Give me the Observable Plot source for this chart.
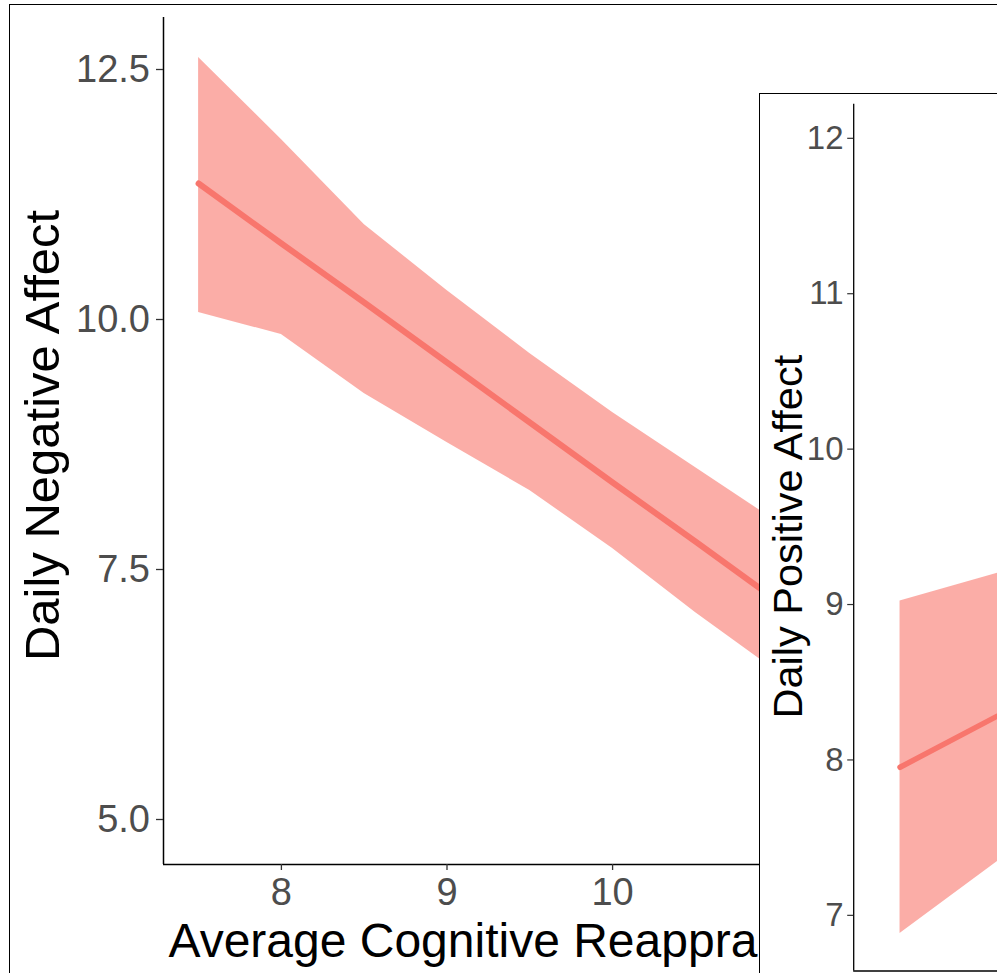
<!DOCTYPE html>
<html>
<head>
<meta charset="utf-8">
<script src="https://cdn.jsdelivr.net/npm/d3@7"></script>
<script src="https://cdn.jsdelivr.net/npm/@observablehq/plot@0.6"></script>
<style>
  html, body { margin: 0; padding: 0; background: #fff; }
  #wrap { position: relative; width: 997px; height: 973px; overflow: hidden; background: #fff; }
  #left { position: absolute; left: 0; top: 0; }
  #frame { position: absolute; left: 9px; top: 4px; width: 1200px; height: 1200px; border: 1.5px solid #000; pointer-events: none; }
  #inset { position: absolute; left: 759px; top: 93px; width: 400px; height: 1000px; border: 1.5px solid #000; background: #fff; overflow: hidden; }
  #right { position: absolute; left: 0; top: 0; }
  svg { display: block; }
</style>
</head>
<body>
<div id="wrap">
  <div id="left"></div>
  <div id="frame"></div>
  <div id="inset"><div id="right"></div></div>
</div>
<script>
// ---- Left panel: Daily Negative Affect ----
const leftX     = [7.5, 8.0, 8.5, 9.0, 9.5, 10.0, 10.5, 11.0];
const leftUpper = [12.60, 11.78, 10.93, 10.27, 9.64, 9.05, 8.50, 7.95];
const leftFit   = [11.34, 10.74, 10.15, 9.55, 8.95, 8.35, 7.76, 7.16];
const leftLower = [10.05, 9.83, 9.24, 8.75, 8.27, 7.69, 7.05, 6.45];
const leftYTicks = [5.0, 7.5, 10.0, 12.5];
const leftXTicks = [8, 9, 10];
const leftYTitle = "Daily Negative Affect";
const xTitle = "Average Cognitive Reappraisal";

// ---- Right panel (inset): Daily Positive Affect ----
const rightX     = [7.5, 8.0, 8.5];
const rightUpper = [9.01, 9.21, 9.40];
const rightFit   = [7.94, 8.31, 8.68];
const rightLower = [6.87, 7.39, 7.88];
const rightYTicks = [7, 8, 9, 10, 11, 12];
const rightYTitle = "Daily Positive Affect";

const FONT = '"Liberation Sans", Arial, Helvetica, sans-serif';
const RED = "#F8766D";

const leftRows = leftX.map((x, i) => ({x, upper: leftUpper[i], fit: leftFit[i], lower: leftLower[i]}));
const rightRows = rightX.map((x, i) => ({x, upper: rightUpper[i], fit: rightFit[i], lower: rightLower[i]}));

const leftXDomain = [7.288, 11.95];
const leftYDomain = [4.53, 13.0];

const leftPlot = Plot.plot({
  width: 997, height: 973,
  marginLeft: 163, marginTop: 17, marginBottom: 109, marginRight: 62,
  style: {fontFamily: FONT, background: "transparent", overflow: "visible"},
  x: {domain: leftXDomain},
  y: {domain: leftYDomain},
  marks: [
    Plot.areaY(leftRows, {x: "x", y1: "lower", y2: "upper", fill: RED, fillOpacity: 0.6}),
    Plot.lineY(leftRows, {x: "x", y: "fit", stroke: RED, strokeWidth: 6}),
    Plot.ruleX([leftXDomain[0]], {stroke: "#000", strokeWidth: 1.5}),
    Plot.ruleY([leftYDomain[0]], {stroke: "#000", strokeWidth: 1.5}),
    Plot.axisY({ticks: leftYTicks, tickFormat: d => d.toFixed(1), tickSize: 7, tickPadding: 6.5,
      fontSize: 38, fill: "#4d4d4d", stroke: "#333333", strokeWidth: 1.3, label: null, dy: 2}),
    Plot.axisX({ticks: leftXTicks, tickFormat: d => String(d), tickSize: 6, tickPadding: 8,
      fontSize: 38, fill: "#4d4d4d", stroke: "#333333", strokeWidth: 1.3, label: null}),
    Plot.text([leftYTitle], {text: d => d, frameAnchor: "left", rotate: -90, dx: -105, dy: -5.5,
      fontSize: 49, fill: "#000", textAnchor: "middle", lineAnchor: "bottom"}),
    Plot.text([xTitle], {text: d => d, frameAnchor: "bottom-left", dx: 5, dy: 92.7,
      fontSize: 48, fill: "#000", textAnchor: "start", lineAnchor: "bottom"})
  ]
});
document.getElementById("left").appendChild(leftPlot);

const rightXDomain = [7.288, 8.6];
const rightYDomain = [6.629, 12.206];

const rightPlot = Plot.plot({
  width: 400, height: 950,
  marginLeft: 93.2, marginTop: 9.8, marginBottom: 73.5, marginRight: 20,
  style: {fontFamily: FONT, background: "transparent", overflow: "visible"},
  x: {domain: rightXDomain, axis: null},
  y: {domain: rightYDomain},
  marks: [
    Plot.areaY(rightRows, {x: "x", y1: "lower", y2: "upper", fill: RED, fillOpacity: 0.6}),
    Plot.lineY(rightRows, {x: "x", y: "fit", stroke: RED, strokeWidth: 5.5}),
    Plot.ruleX([rightXDomain[0]], {stroke: "#000", strokeWidth: 1.3}),
    Plot.ruleY([rightYDomain[0]], {stroke: "#000", strokeWidth: 1.3}),
    Plot.axisY({ticks: rightYTicks, tickFormat: d => String(d), tickSize: 6, tickPadding: 4.2,
      fontSize: 33, fill: "#4d4d4d", stroke: "#333333", strokeWidth: 1.2, label: null, dy: 2}),
    Plot.text([rightYTitle], {text: d => d, frameAnchor: "left", rotate: -90, dx: -51.3, dy: -1,
      fontSize: 41.5, fill: "#000", textAnchor: "middle", lineAnchor: "bottom"})
  ]
});
document.getElementById("right").appendChild(rightPlot);
</script>
</body>
</html>
